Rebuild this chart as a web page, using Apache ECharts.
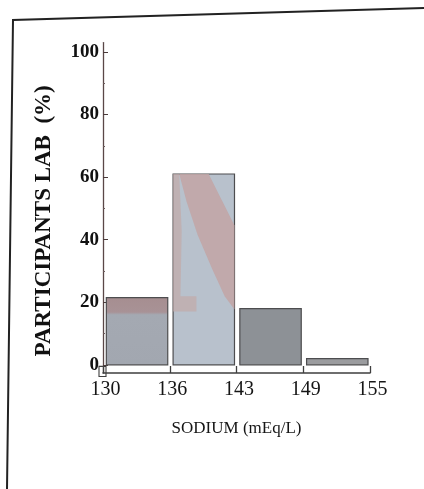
<!DOCTYPE html>
<html>
<head>
<meta charset="utf-8">
<script src="https://cdn.jsdelivr.net/npm/echarts@6/dist/echarts.min.js"></script>
<style>
html,body{margin:0;padding:0;background:#fff;}
#chart{width:424px;height:489px;}
</style>
</head>
<body>
<div id="chart"></div>
<script>
// ---- data ----
const binEdges = ['130', '136', '143', '149', '155'];
const values = [21.5, 61, 18, 2];
const yMajorTicks = [0, 20, 40, 60, 80, 100];
const yMinorTicks = [10, 30, 50, 70, 90];
const xTitle = 'SODIUM (mEq/L)';
const yTitle = 'PARTICIPANTS LAB  (%)';

// ---- styles ----
const serif = '"Liberation Serif", "DejaVu Serif", serif';
const fills = [
  {type:'linear', x:0, y:0, x2:0, y2:1, colorStops:[
    {offset:0, color:'#a68e90'}, {offset:0.22, color:'#a89296'},
    {offset:0.26, color:'#a4a9b2'}, {offset:1, color:'#a2a7b0'}]},
  '#b8c1cc',
  '#8d9196',
  '#9b9c9f'
];

const chart = echarts.init(document.getElementById('chart'));

function rel(x, y, w, h, pts) {
  return pts.map(p => [x + p[0] * w, y + p[1] * h]);
}

function renderBar(params, api) {
  const i = api.value(0), v = api.value(1);
  const p1 = api.coord([i + 0.05, v]);
  const p2 = api.coord([i + 0.97, 0]);
  const x = p1[0], y = p1[1], w = p2[0] - p1[0], h = p2[1] - p1[1];
  const children = [{
    type: 'rect',
    shape: {x: x, y: y, width: w, height: h},
    style: {fill: fills[params.dataIndex], stroke: '#4d4d4f', lineWidth: 1.2}
  }];
  if (params.dataIndex === 1) {
    // pinkish tint seen in the scan
    children.push({
      type: 'polygon',
      shape: {points: rel(x, y, w, h, [
        [0.1, 0], [0.58, 0], [1, 0.27], [1, 0.71], [0.84, 0.64],
        [0.64, 0.5], [0.40, 0.32], [0.22, 0.145]
      ])},
      style: {fill: '#c2a5a4', opacity: 0.85}
    });
    children.push({
      type: 'polygon',
      shape: {points: rel(x, y, w, h, [
        [0, 0], [0.1, 0], [0.14, 0.3], [0.12, 0.64], [0.38, 0.64], [0.38, 0.72], [0, 0.72]
      ])},
      style: {fill: '#c2aaa8', opacity: 0.7}
    });
  }
  return {type: 'group', children: children};
}

const frame = {
  type: 'polyline',
  shape: {points: [[7, 489], [13, 20], [424, 8]]},
  style: {stroke: '#222', lineWidth: 2, fill: null}
};

const option = {
  backgroundColor: '#fff',
  animation: false,
  grid: {left: 103, right: 54, top: 42.6, bottom: 116},
  xAxis: {
    type: 'value', min: 0, max: 4, interval: 1,
    axisLine: {onZero: false, lineStyle: {color: '#3f3f3f', width: 1.6}},
    axisTick: {inside: true, length: 7, lineStyle: {color: '#3f3f3f', width: 1.3}},
    axisLabel: {
      formatter: v => binEdges[v] || '', margin: 7, padding: [0, 0, 0, 5],
      fontFamily: serif, fontSize: 20, color: '#151515'
    },
    splitLine: {show: false},
    name: xTitle, nameLocation: 'middle', nameGap: 47,
    nameTextStyle: {fontFamily: serif, fontSize: 17, color: '#151515'}
  },
  yAxis: [{
    type: 'value', min: -2.6, max: 103,
    axisLine: {onZero: false, lineStyle: {color: '#5a4747', width: 1.3}},
    axisTick: {inside: true, length: 5, customValues: yMajorTicks, lineStyle: {color: '#4a3a3a'}},
    axisLabel: {
      customValues: yMajorTicks, margin: 4,
      fontFamily: serif, fontSize: 19, fontWeight: 'bold', color: '#111'
    },
    splitLine: {show: false},
    name: yTitle, nameLocation: 'middle', nameGap: 47, nameRotate: 90,
    nameTextStyle: {fontFamily: serif, fontSize: 23, fontWeight: 'bold', color: '#111', padding: [0, 26, 0, 0]}
  }, {
    type: 'value', min: -2.6, max: 103, position: 'left',
    axisLine: {show: false},
    axisTick: {inside: true, length: 2, customValues: yMinorTicks, lineStyle: {color: '#6a5a5a'}},
    axisLabel: {show: false},
    splitLine: {show: false}
  }],
  series: [{
    type: 'custom',
    renderItem: renderBar,
    encode: {x: 0, y: 1},
    data: values.map((v, i) => [i, v])
  }],
  graphic: [frame]
};
chart.setOption(option);

// small square at the origin
const o = chart.convertToPixel({gridIndex: 0}, [0, 0]);
const b = chart.convertToPixel({gridIndex: 0}, [0, -2.6]);
chart.setOption({graphic: [frame, {
  type: 'rect',
  shape: {x: o[0] - 4, y: o[1] + 1.5, width: 7, height: b[1] - o[1] + 2},
  style: {fill: null, stroke: '#3f3f3f', lineWidth: 1.1}
}]});
</script>
</body>
</html>
